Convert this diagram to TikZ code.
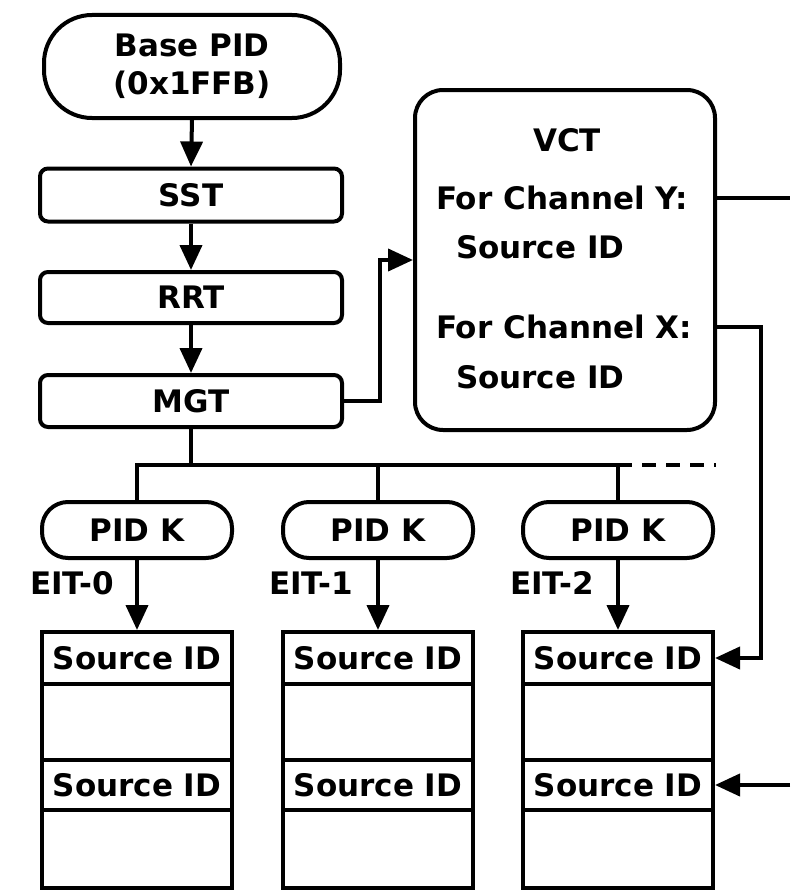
\documentclass[tikz,border=0pt]{standalone}
\usepackage{fontspec}
\setmainfont{DejaVu Sans}
\usetikzlibrary{arrows.meta}
\begin{document}
\begin{tikzpicture}[x=1pt,y=-1pt,line width=4pt,
  every node/.style={font=\fontsize{31}{38}\selectfont\bfseries,inner sep=0pt},
  arr/.style={-{Triangle[width=22pt,length=25pt]}},
  stad/.style={draw,rounded corners=#1},
  tbox/.style={draw,rounded corners=8pt,minimum width=302pt,minimum height=53pt},
  pidk/.style={draw,rounded corners=26pt,minimum width=190pt,minimum height=56pt},
  srow/.style={draw,minimum width=190pt,minimum height=52pt},
  erow/.style={draw,minimum width=190pt,minimum height=#1},
  lbl/.style={anchor=west},
  dashbus/.style={dash pattern=on 14pt off 10pt}
]
\useasboundingbox (0,0) rectangle (790,891);

% top chain
\node[stad=48pt,minimum width=296pt,minimum height=103pt,align=center] (base) at (192,66.5) {Base PID\\(0x1FFB)};
\node[tbox] (sst) at (191,195) {SST};
\node[tbox,minimum height=51pt] (rrt) at (191,297.5) {RRT};
\node[tbox,minimum height=52pt] (mgt) at (191,401) {MGT};
\draw[arr] (base.south) -- (sst.north);
\draw[arr] (sst.south) -- (rrt.north);
\draw[arr] (rrt.south) -- (mgt.north);

% VCT
\node[draw,rounded corners=28pt,minimum width=300pt,minimum height=340pt] (vct) at (565,260) {};
\node (vt) at (567,140) {VCT};
\node[lbl] (yt) at (434,198) {For Channel Y:};
\node[lbl] (ys) at (454,247) {Source ID};
\node[lbl] (xt) at (434,327) {For Channel X:};
\node[lbl] (xs) at (454,377) {Source ID};
\draw[arr] (mgt.east) -- ++(36,0) |- (vct.west);
\coordinate (yout) at (790,198);
\draw (vct.east |- yt.center) -- (yout);

% PID K nodes
\node[pidk] (pk1) at (137,530) {PID K};
\node[pidk] (pk2) at (378,530) {PID K};
\node[pidk] (pk3) at (618,530) {PID K};
\coordinate (bl) at (137,465);
\coordinate (br) at (618,465);
\coordinate (bend) at (716,465);
\draw (mgt.south) -- (mgt.south |- bl);
\draw (pk1.north) -- (bl) -- (br) -- (pk3.north);
\draw[dashbus] (br) -- (bend);
\draw (pk2.north |- bl) -- (pk2.north);

\node (e0) at (72,583) {EIT-0};
\node (e1) at (311,583) {EIT-1};
\node (e2) at (552,583) {EIT-2};

% tables
\foreach \i/\x in {1/137,2/378,3/618}{
  \node[srow] (t\i s1) at (\x,658) {Source ID};
  \node[erow=76pt] (t\i e1) at (\x,722) {};
  \node[srow,minimum height=50pt] (t\i s2) at (\x,785) {Source ID};
  \node[erow=78pt] (t\i e2) at (\x,849) {};
}
\draw[arr] (pk1.south) -- (t1s1.north);
\draw[arr] (pk2.south) -- (t2s1.north);
\draw[arr] (pk3.south) -- (t3s1.north);

% connectors from VCT / right edge
\coordinate (xc) at (761,658);
\draw[arr] (vct.east |- xt.center) -| (xc) -- (t3s1.east);
\coordinate (rin) at (790,785);
\draw[arr] (rin) -- (t3s2.east);
\end{tikzpicture}
\end{document}
